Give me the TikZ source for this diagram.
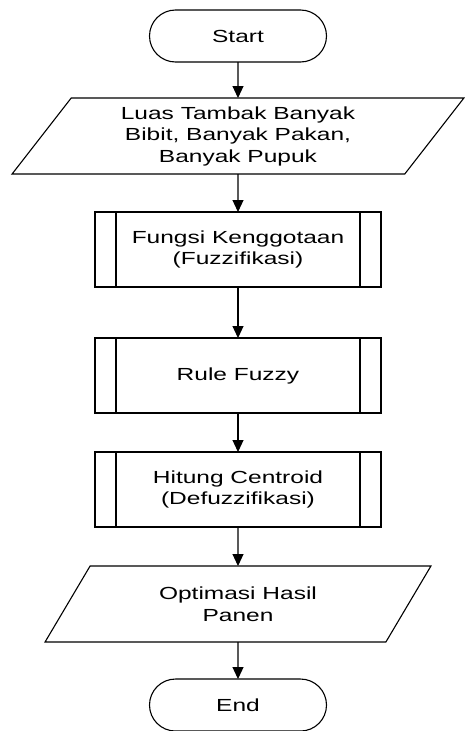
\documentclass[tikz,border=0pt]{standalone}
\usepackage{fontspec}
\setmainfont[FakeStretch=1.4]{Liberation Sans}
\usetikzlibrary{arrows.meta,positioning,shapes.geometric}

\begin{document}
\begin{tikzpicture}[node distance=38pt,
  font=\fontsize{17.5}{21.5}\selectfont, line width=1.1pt,
  term/.style={draw, rounded corners=26pt, minimum width=177pt,
    minimum height=52pt, inner sep=0pt, outer sep=0pt},
  io/.style={draw, trapezium, trapezium left angle=55,
    trapezium right angle=125, trapezium stretches=true,
    minimum height=76pt, align=center, inner sep=0pt, outer sep=0pt},
  proc/.style={draw, minimum width=286pt, minimum height=75pt,
    align=center, inner sep=0pt, outer sep=0pt,
    path picture={
      \draw ([xshift=21pt]path picture bounding box.north west)
        -- ([xshift=21pt]path picture bounding box.south west);
      \draw ([xshift=-21pt]path picture bounding box.north east)
        -- ([xshift=-21pt]path picture bounding box.south east);}},
  flow/.style={-{Triangle[length=12pt,width=11pt]}}]
\useasboundingbox (0,0) rectangle (465pt,-731pt);
\node[term] (start) at (238pt,-36pt) {Start};
\node[io, minimum width=453pt, below=36pt of start] (input)
  {Luas Tambak Banyak\\Bibit, Banyak Pakan,\\Banyak Pupuk};
\node[proc, below=of input] (fuzz) {Fungsi Kenggotaan\\(Fuzzifikasi)};
\node[proc, below=51pt of fuzz] (rule) {Rule Fuzzy};
\node[proc, below=39pt of rule] (defuzz)
  {Hitung Centroid\\(Defuzzifikasi)};
\node[io, minimum width=386pt, below=39pt of defuzz] (output)
  {Optimasi Hasil\\Panen};
\node[term, below=37pt of output] (end) {End};
\draw[flow] (start) -- (input);
\draw[flow] (input) -- (fuzz);
\draw[flow] (fuzz) -- (rule);
\draw[flow] (rule) -- (defuzz);
\draw[flow] (defuzz) -- (output);
\draw[flow] (output) -- (end);
\end{tikzpicture}
\end{document}
